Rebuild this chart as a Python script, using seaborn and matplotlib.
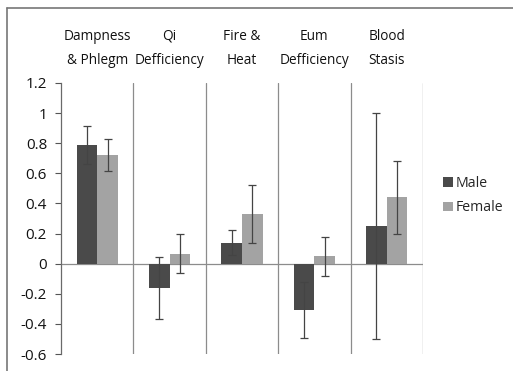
import matplotlib
matplotlib.use('Agg')
import matplotlib.pyplot as plt
import seaborn as sns
import pandas as pd
import numpy as np

# Data
categories = ['Dampness\n& Phlegm', 'Qi\nDefficiency', 'Fire &\nHeat', 'Eum\nDefficiency', 'Blood\nStasis']
male_vals = [0.79, -0.16, 0.14, -0.31, 0.25]
female_vals = [0.72, 0.065, 0.33, 0.05, 0.44]
male_err = [0.125, 0.205, 0.085, 0.185, 0.75]
female_err = [0.105, 0.13, 0.195, 0.13, 0.24]
groups = ['Male', 'Female']

df = pd.DataFrame({
    'category': categories * 2,
    'group': ['Male'] * 5 + ['Female'] * 5,
    'value': male_vals + female_vals,
})

sns.set_theme(style='white')
plt.rcParams['font.family'] = ['Open Sans', 'DejaVu Sans']

fig = plt.figure(figsize=(5.13, 3.71), dpi=100)
ax = fig.add_axes([61 / 513, 1 - 354 / 371, (423 - 61) / 513, (354 - 83) / 371])

sns.barplot(data=df, x='category', y='value', hue='group', hue_order=groups,
            palette=['#4a4a4a', '#a3a3a3'], width=0.57, errorbar=None,
            saturation=1, ax=ax, linewidth=0)

# error bars on each bar
errs = [male_err, female_err]
for cont, err in zip(ax.containers, errs):
    xs = [p.get_x() + p.get_width() / 2 for p in cont]
    ys = [p.get_y() + p.get_height() for p in cont]
    ax.errorbar(xs, ys, yerr=err, fmt='none', ecolor='#444444', elinewidth=0.9,
                capsize=3, capthick=0.9)

# separators and zero line
for xv in [0.5, 1.5, 2.5, 3.5, 4.5]:
    ax.axvline(xv, color='#8c8c8c', lw=0.9, zorder=0)
ax.axhline(0, color='#8c8c8c', lw=0.9, zorder=0)

ax.set_xlim(-0.5, 4.5)
ax.set_ylim(-0.6, 1.2)
ax.set_yticks(np.arange(-0.6, 1.21, 0.2))
ax.set_yticklabels(['-0.6', '-0.4', '-0.2', '0', '0.2', '0.4', '0.6', '0.8', '1', '1.2'],
                   fontsize=11, color='#111111')
ax.tick_params(axis='y', left=True, length=4, width=0.8, color='#555555', pad=6)

ax.xaxis.tick_top()
ax.set_xticklabels(categories, fontsize=9.8, linespacing=1.8, color='#111111')
ax.tick_params(axis='x', top=False, bottom=False, pad=5)
ax.set_xlabel('')
ax.set_ylabel('')

for s in ['top', 'right', 'bottom']:
    ax.spines[s].set_visible(False)
ax.spines['left'].set_color('#6a6a6a')
ax.spines['left'].set_linewidth(0.9)

ax.legend(title=None, frameon=False, loc='center left', bbox_to_anchor=(1.02, 0.585),
          fontsize=10.2, handlelength=0.7, handleheight=0.7, handletextpad=0.2,
          labelspacing=0.7)

# outer chart frame
fig.add_artist(plt.Line2D([7 / 513, 1], [1 - 8 / 371, 1 - 8 / 371], color='#777777', lw=1.2,
                          transform=fig.transFigure))
fig.add_artist(plt.Line2D([7 / 513, 7 / 513], [0, 1 - 8 / 371], color='#777777', lw=1.2,
                          transform=fig.transFigure))

fig.savefig('out.png', dpi=100)
